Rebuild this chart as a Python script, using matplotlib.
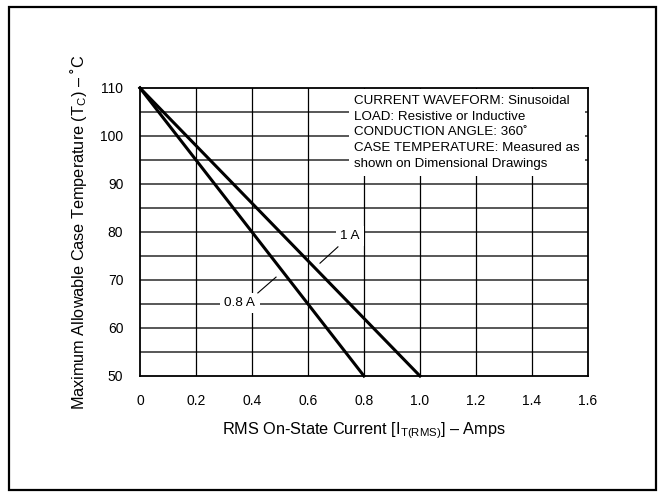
import matplotlib
matplotlib.use('Agg')
import matplotlib.pyplot as plt
from matplotlib.patches import Rectangle

plt.rcParams['font.family'] = ['Liberation Sans', 'DejaVu Sans']
plt.rcParams['mathtext.fontset'] = 'custom'
plt.rcParams['mathtext.rm'] = 'Liberation Sans'
plt.rcParams['mathtext.default'] = 'rm'

# derating curves: current (A) vs max case temp (C)
curve_08_x = [0.0, 0.8]
curve_08_y = [110, 50]
curve_1_x = [0.0, 1.0]
curve_1_y = [110, 50]

x_ticks = [0, 0.2, 0.4, 0.6, 0.8, 1.0, 1.2, 1.4, 1.6]
x_labels = ['0', '0.2', '0.4', '0.6', '0.8', '1.0', '1.2', '1.4', '1.6']
y_ticks = [50, 60, 70, 80, 90, 100, 110]
y_grid = [55, 60, 65, 70, 75, 80, 85, 90, 95, 100, 105]

notes = ['CURRENT WAVEFORM: Sinusoidal',
         'LOAD: Resistive or Inductive',
         'CONDUCTION ANGLE: 360\u02da',
         'CASE TEMPERATURE: Measured as',
         'shown on Dimensional Drawings']

fig = plt.figure(figsize=(6.64, 4.92), dpi=100)
ax = fig.add_axes([0.2108, 0.2358, 0.6747, 0.5854])

# outer frame round the whole figure
fig.patches.append(Rectangle((0.013, 0.004), 0.975, 0.982, transform=fig.transFigure,
                             fill=False, edgecolor='black', linewidth=1.6))

for y in y_grid:
    ax.axhline(y, color='#4a4a4a', linewidth=1.3, zorder=1)
for x in x_ticks[1:-1]:
    ax.axvline(x, color='black', linewidth=0.9, zorder=1)

ax.plot(curve_08_x, curve_08_y, color='black', linewidth=2.2, zorder=4, clip_on=False)
ax.plot(curve_1_x, curve_1_y, color='black', linewidth=2.2, zorder=4, clip_on=False)

ax.set_xlim(0, 1.6)
ax.set_ylim(50, 110)
ax.set_xticks(x_ticks)
ax.set_xticklabels(x_labels)
ax.set_yticks(y_ticks)
ax.tick_params(length=0, labelsize=10)
ax.tick_params(axis='y', pad=12)
ax.tick_params(axis='x', pad=13)
for s in ax.spines.values():
    s.set_linewidth(1.3)
    s.set_zorder(5)

ax.set_xlabel('RMS On-State Current [I$_{T(RMS)}$] \u2013 Amps', fontsize=11.7, labelpad=9)
ax.set_ylabel('Maximum Allowable Case Temperature (T$_{C}$) \u2013 \u02daC', fontsize=11.7, labelpad=8)

ax.text(0.765, 108.6, '\n'.join(notes), fontsize=9.6, va='top', ha='left', linespacing=1.43,
        zorder=3, bbox=dict(facecolor='white', edgecolor='none', pad=4))

# curve labels with leader lines
ax.text(0.75, 79.2, '1 A', fontsize=9.7, ha='center', va='center', zorder=3,
        bbox=dict(facecolor='white', edgecolor='none', pad=3))
ax.plot([0.707, 0.643], [76.9, 73.5], color='black', linewidth=0.8, zorder=3)
ax.text(0.357, 65.2, '0.8 A', fontsize=9.7, ha='center', va='center', zorder=3,
        bbox=dict(facecolor='white', edgecolor='none', pad=3))
ax.plot([0.421, 0.486], [67.3, 70.6], color='black', linewidth=0.8, zorder=3)

fig.savefig('out.png', dpi=100)
